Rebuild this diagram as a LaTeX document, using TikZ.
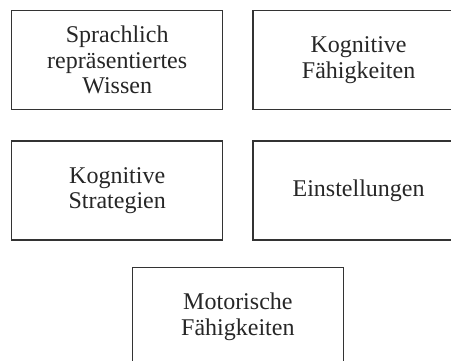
\documentclass[tikz,border=0pt]{standalone}
\usepackage{fontspec}
\setmainfont{Liberation Serif}
\usepackage{tikz}
\usetikzlibrary{positioning}
\usetikzlibrary{calc}

\begin{document}
\begin{tikzpicture}[x=1pt, y=1pt, node distance=29pt and 29pt,
    lernbox/.style={draw=black!80, line width=1.4pt, rectangle, minimum width=211pt, minimum height=99pt,
        inner sep=0pt, align=center, text=black!85, font=\fontsize{24}{25.5}\selectfont}]
    \useasboundingbox (0,0) rectangle (451,-361);

    \node [lernbox, anchor=north west] (wissen) at (11,-10) {Sprachlich\\repräsentiertes\\Wissen};
    \node [lernbox, right=29pt of wissen] (faehig) {Kognitive\\Fähigkeiten};
    \node [lernbox, below=30pt of wissen] (strat) {Kognitive\\Strategien};
    \node [lernbox, below=30pt of faehig] (einst) {Einstellungen};
    \coordinate (mitte) at ($(strat.south)!0.5!(einst.south)$);
    \node [lernbox, below=26pt of mitte] (motor) {Motorische\\Fähigkeiten};

\end{tikzpicture}
\end{document}
